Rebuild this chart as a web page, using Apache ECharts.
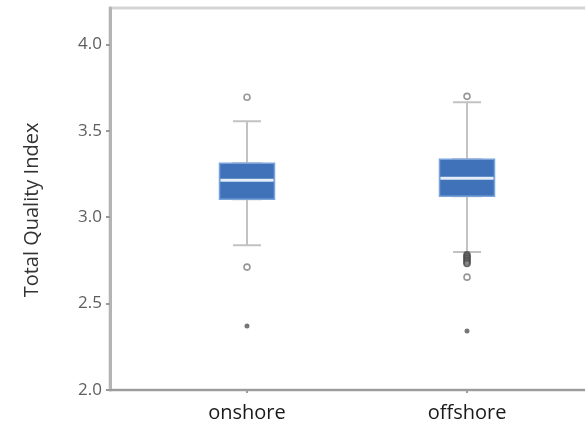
<!DOCTYPE html>
<html>
<head>
<meta charset="utf-8">
<script src="https://cdn.jsdelivr.net/npm/echarts@6/dist/echarts.min.js"></script>
<style>
html,body{margin:0;padding:0;background:#fff;}
#chart{width:585px;height:426px;}
</style>
</head>
<body>
<div id="chart"></div>
<script>
// ---- data ----
const categories = ['onshore', 'offshore'];
const whiskerLow  = [2.838, 2.798];
const q1          = [3.104, 3.121];
const median      = [3.214, 3.225];
const q3          = [3.312, 3.335];
const whiskerHigh = [3.555, 3.665];
const outliersOnshore  = [3.694, 2.711];
const outliersOffshore = [3.699, 2.653];
const clusterOffshore  = [2.782, 2.772, 2.762, 2.752, 2.742, 2.732];
const extremesOnshore  = [2.370];
const extremesOffshore = [2.341];
const yTicks = [2.0, 2.5, 3.0, 3.5, 4.0];
const yAxisTitle = 'Total Quality Index';

// ---- build options ----
const pos = categories.map((c, i) => i + 1);
const xMin = 0.3773, xMax = 2.5818;

const whiskerData = pos.map((x, i) => [x, whiskerLow[i], q1[i], median[i], q3[i], whiskerHigh[i]]);
const boxData     = pos.map((x, i) => [x, q1[i], q1[i], median[i], q3[i], q3[i]]);
const medianData  = pos.map((x, i) => [x, median[i], median[i], median[i], median[i], median[i]]);
const outlierData = outliersOnshore.map(v => [pos[0], v]).concat(outliersOffshore.map(v => [pos[1], v]));
const clusterData = clusterOffshore.map(v => [pos[1], v]);
const extremeData = extremesOnshore.map(v => [pos[0], v]).concat(extremesOffshore.map(v => [pos[1], v]));

const font = "'Open Sans', 'Noto Sans', sans-serif";

function xAxisDef(show) {
  return {
    type: 'value', min: xMin, max: xMax, show: show,
    splitLine: { show: false },
    axisLine: { show: true, lineStyle: { color: '#9c9c9c', width: 2 } },
    axisTick: { show: true, customValues: pos, length: 3, lineStyle: { color: '#9c9c9c', width: 2 } },
    axisLabel: {
      customValues: pos, margin: 13,
      formatter: v => categories[Math.round(v) - 1] || '',
      color: '#1a1a1a', fontSize: 20, fontFamily: font
    }
  };
}

const option = {
  animation: false,
  backgroundColor: '#ffffff',
  grid: { left: 110, right: -10, top: 8, bottom: 36, outerBoundsMode: 'none', containLabel: false,
          show: true, borderColor: '#d4d4d4', borderWidth: 3, backgroundColor: 'transparent' },
  xAxis: [xAxisDef(true), xAxisDef(false), xAxisDef(false)],
  yAxis: {
    type: 'value', min: 2.0, max: 4.21,
    name: yAxisTitle, nameLocation: 'middle', nameGap: 68,
    nameTextStyle: { color: '#333333', fontSize: 20, fontFamily: font, padding: [0, 22, 0, 0] },
    splitLine: { show: false },
    axisLine: { show: true, lineStyle: { color: '#b4b4b4', width: 3 } },
    axisTick: { show: true, customValues: yTicks, length: 4, lineStyle: { color: '#999999', width: 2 } },
    axisLabel: { customValues: yTicks, margin: 8, formatter: v => v.toFixed(1), color: '#5e5e5e', fontSize: 17, fontFamily: font }
  },
  series: [
    {
      type: 'boxplot', xAxisIndex: 0, data: whiskerData, boxWidth: [28, 28],
      itemStyle: { color: '#c6c6c6', borderColor: '#c2c2c2', borderWidth: 2 },
      emphasis: { disabled: true }, silent: true
    },
    {
      type: 'boxplot', xAxisIndex: 1, data: boxData, boxWidth: [55, 55],
      itemStyle: { color: '#3f72b9', borderColor: '#7aa3dc', borderWidth: 1.5 },
      emphasis: { disabled: true }, silent: true
    },
    {
      type: 'boxplot', xAxisIndex: 2, data: medianData, boxWidth: [53, 53],
      itemStyle: { color: '#e4ecf8', borderColor: '#e4ecf8', borderWidth: 3 },
      emphasis: { disabled: true }, silent: true
    },
    {
      type: 'scatter', xAxisIndex: 0, data: outlierData, symbol: 'circle', symbolSize: 6,
      itemStyle: { color: '#ffffff', borderColor: '#7d7d7d', borderWidth: 1.6 },
      emphasis: { disabled: true }, silent: true
    },
    {
      type: 'scatter', xAxisIndex: 0, data: clusterData, symbol: 'circle', symbolSize: 6,
      itemStyle: { color: '#8a8a8a', borderColor: '#4a4a4a', borderWidth: 1.6 },
      emphasis: { disabled: true }, silent: true
    },
    {
      type: 'scatter', xAxisIndex: 0, data: extremeData, symbol: 'circle', symbolSize: 5,
      itemStyle: { color: '#555555' },
      emphasis: { disabled: true }, silent: true
    }
  ]
};

const chart = echarts.init(document.getElementById('chart'), null, { renderer: 'canvas' });
chart.setOption(option);
</script>
</body>
</html>
